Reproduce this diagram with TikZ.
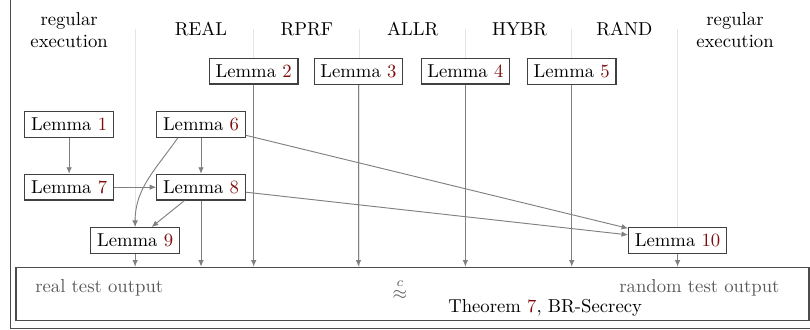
\documentclass[tikz,border=0pt]{standalone}
\usetikzlibrary{arrows.meta}
\definecolor{refred}{rgb}{0.5,0.05,0.05}
\newcommand{\lemref}[1]{Lemma \textcolor{refred}{#1}}
\tikzset{
  lemma/.style={draw=black!75, line width=0.6pt, fill=white, rectangle},
  colline/.style={black!10, line width=0.5pt},
  head/.style={align=center},
  dep/.style={black!50, line width=0.5pt, -{Latex[length=3.5pt,width=3pt]}}
}
\begin{document}
\begin{tikzpicture}
\useasboundingbox (0,0) rectangle (15.23,6.19);
\draw[black!70, line width=0.5pt] (0.19,6.19) -- (0.19,0.02) -- (15.23,0.02);
% columns
\foreach \x in {2.54,4.77,6.76,8.75,10.75,12.74}
  \draw[colline] (\x,5.64) -- (\x,1.17);
\node[head] (hleft) at (1.30,5.62) {regular\\execution};
\node[head] (hreal) at (3.78,5.64) {REAL};
\node[head] (hrprf) at (5.77,5.64) {RPRF};
\node[head] (hallr) at (7.76,5.64) {ALLR};
\node[head] (hhybr) at (9.77,5.64) {HYBR};
\node[head] (hrand) at (11.74,5.64) {RAND};
\node[head] (hright) at (13.82,5.62) {regular\\execution};
% lemmas
\node[lemma] (l2) at (4.77,4.85) {\lemref{2}};
\node[lemma] (l3) at (6.74,4.85) {\lemref{3}};
\node[lemma] (l4) at (8.75,4.85) {\lemref{4}};
\node[lemma] (l5) at (10.75,4.85) {\lemref{5}};
\node[lemma] (l1) at (1.30,3.85) {\lemref{1}};
\node[lemma] (l6) at (3.78,3.85) {\lemref{6}};
\node[lemma] (l7) at (1.30,2.67) {\lemref{7}};
\node[lemma] (l8) at (3.78,2.67) {\lemref{8}};
\node[lemma] (l9) at (2.54,1.67) {\lemref{9}};
\node[lemma] (l10) at (12.74,1.67) {\lemref{10}};
% result
\node[draw=black!70, line width=0.6pt, minimum width=14.91cm, minimum height=1cm,
  inner sep=0pt] (box) at (7.755,0.667) {};
\node[black!65, anchor=west] (real) at (0.54,0.77) {real test output};
\node[black!65, anchor=east] (rand) at (14.78,0.77) {random test output};
\node[black!65] (approx) at (7.52,0.75) {$\stackrel{c}{\approx}$};
\node (thm) at (10.25,0.41) {Theorem \textcolor{refred}{7}, BR-Secrecy};
% dependencies
\draw[dep] (l1) -- (l7);
\draw[dep] (l6) -- (l8);
\draw[dep] (l7) -- (l8);
\draw[dep] (l8) -- (l9);
\draw[dep] (l6.210) to[out=235,in=90] (l9);
\draw[dep] (l6) -- (l10);
\draw[dep] (l8) -- (l10);
\foreach \n in {l2,l3,l4,l5,l8,l9,l10}
  \draw[dep] (\n) -- (\n |- box.north);
\end{tikzpicture}
\end{document}
